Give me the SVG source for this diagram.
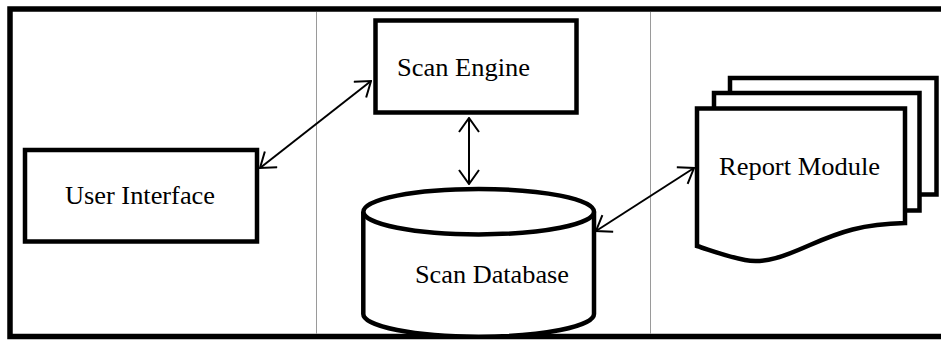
<svg xmlns="http://www.w3.org/2000/svg" width="941" height="341" viewBox="0 0 941 341">
<defs>
<style>
.box{fill:#fff;stroke:#000;stroke-width:4.5}
.doc{fill:#fff;stroke:#000;stroke-width:4.5;stroke-linejoin:miter}
.lbl{font-family:"Liberation Serif","Times New Roman",serif;font-size:25px;fill:#000}
.con{stroke:#000;stroke-width:2;fill:none;marker-start:url(#ah);marker-end:url(#ah)}
.div{stroke:#9a9a9a;stroke-width:1}
</style>
<marker id="ah" viewBox="0 0 16 22" refX="15" refY="11" markerWidth="16" markerHeight="22" markerUnits="userSpaceOnUse" orient="auto-start-reverse">
<path d="M1,1 L15,11 L1,21" fill="none" stroke="#000" stroke-width="2"/>
</marker>
</defs>
<rect width="941" height="341" fill="#fff"/>
<rect x="10" y="9" width="940" height="327.5" fill="none" stroke="#000" stroke-width="5.5"/>
<line class="div" x1="316.5" y1="12" x2="316.5" y2="334"/>
<line class="div" x1="650.5" y1="12" x2="650.5" y2="334"/>
<g id="user-interface">
<rect class="box" x="25" y="150" width="232" height="91.5"/>
<text class="lbl" x="65" y="204" textLength="150" lengthAdjust="spacingAndGlyphs">User Interface</text>
</g>
<g id="scan-engine">
<rect class="box" x="375.5" y="20.5" width="201" height="92"/>
<text class="lbl" x="397" y="76" textLength="133" lengthAdjust="spacingAndGlyphs">Scan Engine</text>
</g>
<g id="scan-database">
<path class="box" stroke-width="5" d="M363.3,211.7 V314 A115.3,22.7 0 0 0 594,314 V211.7"/>
<ellipse class="box" stroke-width="5" cx="478.7" cy="211.7" rx="115.3" ry="22.7"/>
<text class="lbl" x="415" y="283" textLength="154" lengthAdjust="spacingAndGlyphs">Scan Database</text>
</g>
<g id="report-module">
<rect class="doc" x="730" y="78" width="206.5" height="116.5"/>
<rect class="doc" x="714" y="93" width="205.5" height="117.5"/>
<path class="doc" d="M697,108.5 L905,108.5 L905,223 C862,224 840,232 810,245 C785,256 765,264 745,260 C725,256 710,250 697,246 Z"/>
<text class="lbl" x="719" y="175" textLength="161" lengthAdjust="spacingAndGlyphs">Report Module</text>
</g>
<g id="connectors">
<line class="con" x1="260" y1="168" x2="371" y2="81"/>
<line class="con" x1="469" y1="118" x2="469" y2="184"/>
<line class="con" x1="596" y1="231" x2="694" y2="168"/>
</g>
</svg>
